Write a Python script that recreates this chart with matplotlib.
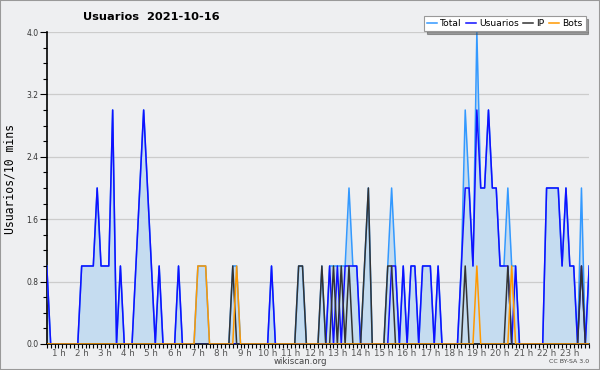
import numpy as np
import matplotlib
matplotlib.use("Agg")
import matplotlib.pyplot as plt
from matplotlib.patches import Rectangle

# 10-minute bins
total = [1, 0, 0, 0, 0, 0, 0, 0, 0, 1, 1, 1, 1, 2, 1, 1, 1, 3, 0, 1,
         0, 0, 0, 1, 2, 3, 2, 1, 0, 1, 0, 0, 0, 0, 1, 0, 0, 0, 0, 1,
         1, 1, 0, 0, 0, 0, 0, 0, 1, 1, 0, 0, 0, 0, 0, 0, 0, 0, 1, 0,
         0, 0, 0, 0, 0, 1, 1, 0, 0, 0, 0, 1, 0, 1, 1, 1, 1, 1, 2, 1,
         1, 0, 1, 2, 0, 0, 0, 0, 1, 2, 1, 0, 1, 0, 1, 1, 0, 1, 1, 1,
         0, 1, 0, 0, 0, 0, 0, 1, 3, 2, 1, 4, 2, 2, 3, 2, 2, 1, 1, 2,
         1, 1, 0, 0, 0, 0, 0, 0, 0, 2, 2, 2, 2, 1, 2, 1, 1, 0, 2, 0,
         1]
usuarios = [1, 0, 0, 0, 0, 0, 0, 0, 0, 1, 1, 1, 1, 2, 1, 1, 1, 3, 0, 1,
            0, 0, 0, 1, 2, 3, 2, 1, 0, 1, 0, 0, 0, 0, 1, 0, 0, 0, 0, 0,
            0, 0, 0, 0, 0, 0, 0, 0, 0, 0, 0, 0, 0, 0, 0, 0, 0, 0, 1, 0,
            0, 0, 0, 0, 0, 0, 0, 0, 0, 0, 0, 0, 0, 1, 0, 1, 0, 1, 1, 1,
            1, 0, 0, 0, 0, 0, 0, 0, 0, 1, 1, 0, 1, 0, 1, 1, 0, 1, 1, 1,
            0, 1, 0, 0, 0, 0, 0, 1, 2, 2, 1, 3, 2, 2, 3, 2, 2, 1, 1, 1,
            0, 1, 0, 0, 0, 0, 0, 0, 0, 2, 2, 2, 2, 1, 2, 1, 1, 0, 1, 0,
            1]
ip = [0, 0, 0, 0, 0, 0, 0, 0, 0, 0, 0, 0, 0, 0, 0, 0, 0, 0, 0, 0,
      0, 0, 0, 0, 0, 0, 0, 0, 0, 0, 0, 0, 0, 0, 0, 0, 0, 0, 0, 0,
      0, 0, 0, 0, 0, 0, 0, 0, 1, 0, 0, 0, 0, 0, 0, 0, 0, 0, 0, 0,
      0, 0, 0, 0, 0, 1, 1, 0, 0, 0, 0, 1, 0, 0, 1, 0, 1, 0, 1, 0,
      0, 0, 1, 2, 0, 0, 0, 0, 1, 1, 0, 0, 0, 0, 0, 0, 0, 0, 0, 0,
      0, 0, 0, 0, 0, 0, 0, 0, 1, 0, 0, 0, 0, 0, 0, 0, 0, 0, 0, 1,
      0, 0, 0, 0, 0, 0, 0, 0, 0, 0, 0, 0, 0, 0, 0, 0, 0, 0, 1, 0,
      0]
bots = [0, 0, 0, 0, 0, 0, 0, 0, 0, 0, 0, 0, 0, 0, 0, 0, 0, 0, 0, 0,
        0, 0, 0, 0, 0, 0, 0, 0, 0, 0, 0, 0, 0, 0, 0, 0, 0, 0, 0, 1,
        1, 1, 0, 0, 0, 0, 0, 0, 0, 1, 0, 0, 0, 0, 0, 0, 0, 0, 0, 0,
        0, 0, 0, 0, 0, 0, 0, 0, 0, 0, 0, 0, 0, 0, 0, 0, 0, 0, 0, 0,
        0, 0, 0, 0, 0, 0, 0, 0, 0, 0, 0, 0, 0, 0, 0, 0, 0, 0, 0, 0,
        0, 0, 0, 0, 0, 0, 0, 0, 0, 0, 0, 1, 0, 0, 0, 0, 0, 0, 0, 0,
        1, 0, 0, 0, 0, 0, 0, 0, 0, 0, 0, 0, 0, 0, 0, 0, 0, 0, 0, 0,
        0]
hours = list(range(1, 24))
hour_labels = [f"{h} h" for h in hours]
y_ticks = [0.0, 0.8, 1.6, 2.4, 3.2, 4.0]

bg = "#eeeff1"
x = np.arange(len(total))

fig = plt.figure(figsize=(6.0, 3.7), dpi=100, facecolor=bg)
ax = fig.add_axes([0.078, 0.0703, 0.904, 0.8432], facecolor=bg)

ax.fill_between(x, total, 0, color="#c5dcf0", lw=0, zorder=1)
ax.plot(x, total, color="#3399ff", lw=1.1, label="Total", zorder=3)
ax.plot(x, usuarios, color="#1010ff", lw=1.1, label="Usuarios", zorder=4)
ax.plot(x, ip, color="#333333", lw=1.1, label="IP", zorder=5)
ax.plot(x, bots, color="#ff9900", lw=1.1, label="Bots", zorder=6)

ax.set_xlim(0, len(total) - 1)
ax.set_ylim(0, 4.0)

# y axis
ax.set_yticks(y_ticks)
ax.set_yticklabels([f"{v:.1f}" for v in y_ticks])
ax.set_yticks(np.arange(0, 4.01, 0.2), minor=True)
ax.yaxis.grid(True, color="#cccccc", lw=0.9)
ax.set_axisbelow(True)
ax.tick_params(axis="y", which="major", length=5, width=0.8, pad=1,
               labelsize=5.5, labelcolor="#333333")
ax.tick_params(axis="y", which="minor", length=3, width=0.8)

# x axis: a tick every 10 min, hour labels mid-hour
ax.set_xticks([6 * h - 3 for h in hours])
ax.set_xticklabels(hour_labels)
ax.set_xticks(x, minor=True)
ax.tick_params(axis="x", which="both", length=3, width=0.8, pad=0.5,
               labelsize=6.3, labelcolor="#555555")

for s in ["top", "right"]:
    ax.spines[s].set_visible(False)
for s in ["left", "bottom"]:
    ax.spines[s].set_linewidth(1.2)

ax.set_ylabel("Usuarios/10 mins", family="DejaVu Sans Mono", fontsize=8.3)
ax.yaxis.set_label_coords(-0.056, 0.53)

fig.text(0.252, 0.955, "Usuarios  2021-10-16", fontsize=8.2, weight="bold",
         ha="center", va="center")
fig.text(0.5, 0.022, "wikiscan.org", fontsize=6.2, color="#444444",
         ha="center", va="center")
fig.text(0.982, 0.022, "CC BY-SA 3.0", fontsize=4.5, color="#444444",
         ha="right", va="center")

leg = ax.legend(loc="upper right", bbox_to_anchor=(0.976, 0.957),
                bbox_transform=fig.transFigure, ncol=4, fontsize=6.6,
                frameon=True, fancybox=False, shadow=True, borderpad=0.35,
                handlelength=1.1, handletextpad=0.35, columnspacing=0.45,
                borderaxespad=0)
leg.get_frame().set_edgecolor("#999999")
leg.get_frame().set_linewidth(0.8)

fig.patches.append(Rectangle((0, 0), 1, 1, transform=fig.transFigure,
                             fill=False, edgecolor="#999999", lw=1.5))

fig.savefig("out.png", dpi=100, facecolor=bg)
